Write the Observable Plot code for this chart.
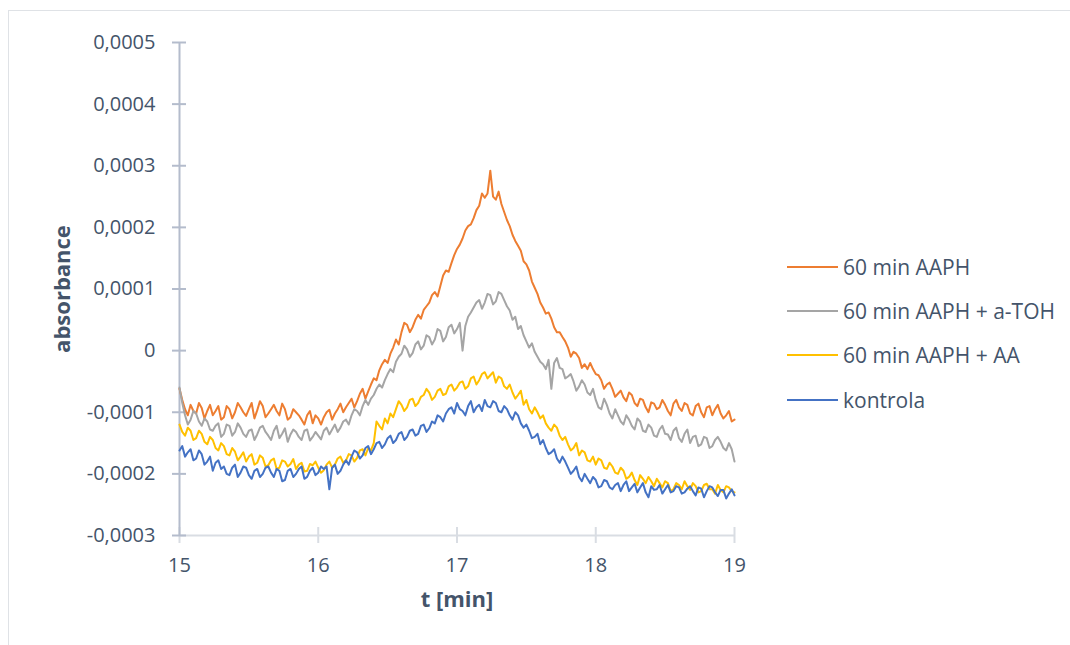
<!DOCTYPE html>
<html>
<head>
<meta charset="utf-8">
<script src="https://cdn.jsdelivr.net/npm/d3@7"></script>
<script src="https://cdn.jsdelivr.net/npm/@observablehq/plot@0.6"></script>
<style>
  html, body { margin: 0; padding: 0; background: #fff; }
  #wrap { position: relative; width: 1070px; height: 645px; overflow: hidden; font-family: "Open Sans", sans-serif; }
  #frame { position: absolute; left: 8px; top: 10px; width: 1070px; height: 650px; border-left: 1px solid #dfe2e6; border-top: 1px solid #dfe2e6; }
  #chart { position: absolute; left: 0; top: 0; }
  #legend { position: absolute; left: 787px; top: 0; }
  .item { position: absolute; left: 0; display: flex; align-items: center; white-space: nowrap; transform: translateY(-50%); }
  .sw { width: 51px; height: 2px; margin-right: 5px; }
  .lab { font-size: 21px; color: #44546A; }
</style>
</head>
<body>
<div id="wrap">
  <div id="frame"></div>
  <div id="chart"></div>
  <div id="legend"></div>
</div>
<script>
// time axis sampling (minutes)
const tStart = 15, tStep = 0.02;
// absorbance values in units of 1e-4, one value per sample
const seriesNames = ["60 min AAPH", "60 min AAPH + a-TOH", "60 min AAPH + AA", "kontrola"];
const seriesColors = ["#ED7D31", "#A5A5A5", "#FFC000", "#4472C4"];
const aaph = [
-0.62,-0.80, -0.95,-1.05, -0.88,-0.98, -1.02,-0.85, -0.93,-1.10, -0.98,-0.88, -1.05,-0.98, -0.90,-1.12, -1.08,-0.90, -0.95,-1.10,
-1.00,-0.85, -0.92,-1.00, -1.06,-0.95, -0.85,-1.10, -0.97,-0.82, -0.90,-1.08, -1.02,-0.95, -0.88,-0.98, -1.05,-0.86, -0.95,-1.12,
-1.08,-0.95, -1.00,-1.05, -1.12,-1.20, -1.05,-0.98, -1.18,-1.05, -1.10,-1.20, -1.08,-1.00, -0.96,-1.12, -1.02,-0.95, -0.86,-1.00,
-0.92,-0.85, -0.78,-0.92, -0.82,-0.70, -0.62,-0.78, -0.66,-0.55, -0.45,-0.48, -0.32,-0.22, -0.15,-0.20, -0.05,0.05, 0.18,0.10,
0.30,0.45, 0.42,0.30, 0.38,0.50, 0.58,0.52, 0.66,0.72, 0.78,0.90, 0.95,0.88, 1.05,1.22, 1.30,1.28, 1.42,1.55,
1.65,1.72, 1.82,1.95, 2.02,2.05, 2.15,2.28, 2.35,2.55, 2.48,2.55, 2.92,2.50, 2.45,2.58, 2.38,2.25, 2.12,2.02,
1.88,1.78, 1.70,1.62, 1.45,1.40, 1.30,1.12, 1.02,0.92, 0.78,0.70, 0.60,0.62, 0.52,0.38, 0.30,0.30, 0.22,0.15,
0.05,-0.10, -0.02,-0.05, -0.12,-0.28, -0.22,-0.30, -0.20,-0.30, -0.38,-0.40, -0.48,-0.62, -0.55,-0.52, -0.62,-0.75, -0.70,-0.65,
-0.76,-0.82, -0.68,-0.72, -0.85,-0.90, -0.78,-0.80, -0.92,-1.00, -0.84,-0.86, -0.95,-0.92, -0.80,-0.88, -0.98,-1.05, -0.86,-0.80,
-0.92,-0.98, -0.85,-0.88, -1.02,-1.05, -0.90,-0.86, -1.00,-1.08, -0.92,-0.90, -1.05,-0.95, -0.88,-1.02, -1.10,-1.05, -0.98,-1.15, -1.12];
const aaphToh = [
-0.60,-0.85, -1.05,-1.20, -1.12,-0.98, -1.02,-1.15, -1.22,-1.10, -1.15,-1.28, -1.30,-1.22, -1.18,-1.40, -1.35,-1.20, -1.22,-1.38,
-1.32,-1.18, -1.25,-1.35, -1.40,-1.30, -1.28,-1.45, -1.36,-1.25, -1.22,-1.32, -1.38,-1.45, -1.30,-1.22, -1.42,-1.35, -1.26,-1.48,
-1.36,-1.28, -1.32,-1.40, -1.45,-1.30, -1.28,-1.46, -1.40,-1.32, -1.38,-1.44, -1.30,-1.25, -1.36,-1.28, -1.20,-1.32, -1.25,-1.15,
-1.12,-1.20, -1.05,-0.95, -0.98,-1.05, -0.90,-0.80, -0.88,-0.78, -0.72,-0.62, -0.55,-0.60, -0.48,-0.38, -0.30,-0.35, -0.18,-0.10,
-0.05,0.08, 0.02,-0.10, -0.04,0.10, 0.15,0.02, 0.08,0.25, 0.22,0.10, 0.18,0.35, 0.32,0.15, 0.22,0.38, 0.42,0.28,
0.35,0.45, 0.00,0.40, 0.55,0.62, 0.70,0.78, 0.82,0.68, 0.78,0.92, 0.90,0.75, 0.80,0.95, 0.92,0.82, 0.72,0.65, 0.50,0.55,
0.35,0.40, 0.25,0.15, 0.05,0.12, -0.02,-0.10, -0.18,-0.22, -0.30,-0.15, -0.62,-0.20, -0.12,-0.28, -0.30,-0.45, -0.42,-0.38,
-0.50,-0.65, -0.58,-0.48, -0.55,-0.68, -0.72,-0.62, -0.80,-0.92, -0.95,-0.78, -0.88,-1.02, -1.10,-0.95, -1.05,-1.15, -1.20,-1.05,
-1.12,-1.22, -1.28,-1.10, -1.15,-1.30, -1.32,-1.20, -1.25,-1.38, -1.40,-1.28, -1.22,-1.35, -1.36,-1.45, -1.30,-1.25, -1.42,-1.48,
-1.35,-1.28, -1.50,-1.40, -1.38,-1.55, -1.52,-1.40, -1.42,-1.58, -1.55,-1.45, -1.40,-1.48, -1.58,-1.62, -1.50,-1.60, -1.80];
const aaphAA = [
-1.20,-1.32, -1.38,-1.25, -1.30,-1.45, -1.42,-1.30, -1.35,-1.48, -1.52,-1.40, -1.45,-1.58, -1.62,-1.50, -1.55,-1.68, -1.70,-1.58,
-1.64,-1.78, -1.72,-1.65, -1.80,-1.72, -1.68,-1.85, -1.82,-1.70, -1.74,-1.88, -1.86,-1.78, -1.75,-1.92, -1.90,-1.78, -1.80,-1.88,
-1.84,-1.76, -1.92,-1.85, -1.82,-1.96, -1.95,-1.84, -1.86,-1.80, -1.90,-1.98, -1.94,-1.85, -1.80,-1.90, -1.85,-1.75, -1.72,-1.82,
-1.78,-1.68, -1.70,-1.80, -1.74,-1.62, -1.60,-1.70, -1.58,-1.62, -1.50,-1.15, -1.22,-1.28, -1.10,-1.18, -1.02,-1.08, -0.95,-0.82,
-0.88,-0.98, -0.92,-0.80, -0.78,-0.90, -0.85,-0.75, -0.72,-0.62, -0.68,-0.80, -0.75,-0.65, -0.62,-0.72, -0.70,-0.58, -0.55,-0.65,
-0.60,-0.52, -0.50,-0.62, -0.58,-0.45, -0.42,-0.55, -0.48,-0.38, -0.35,-0.45, -0.40,-0.35, -0.52,-0.42, -0.45,-0.58, -0.62,-0.55,
-0.68,-0.78, -0.72,-0.65, -0.88,-0.80, -0.95,-1.02, -0.92,-1.00, -1.10,-1.05, -1.18,-1.25, -1.30,-1.20, -1.25,-1.38, -1.45,-1.40,
-1.52,-1.62, -1.58,-1.50, -1.70,-1.62, -1.65,-1.78, -1.80,-1.72, -1.85,-1.75, -1.78,-1.90, -1.92,-1.82, -1.88,-1.98, -2.00,-1.90,
-1.95,-2.08, -2.05,-1.98, -2.10,-2.18, -2.02,-2.08, -2.15,-2.05, -2.12,-2.20, -2.08,-2.15, -2.22,-2.12, -2.15,-2.28, -2.25,-2.15,
-2.18,-2.25, -2.12,-2.20, -2.26,-2.15, -2.20,-2.30, -2.28,-2.18, -2.16,-2.25, -2.25,-2.32, -2.18,-2.26, -2.30,-2.20, -2.22,-2.28, -2.30];
const kontrola = [
-1.62,-1.55, -1.72,-1.65, -1.60,-1.78, -1.75,-1.62, -1.68,-1.85, -1.80,-1.72, -1.95,-1.82, -1.78,-1.92, -1.88,-2.00, -2.02,-1.90,
-1.85,-2.05, -1.98,-1.88, -1.90,-2.02, -2.08,-1.95, -1.92,-2.05, -2.00,-1.90, -1.88,-1.98, -2.05,-1.92, -1.95,-2.12, -2.10,-1.95,
-1.92,-2.05, -2.00,-1.92, -1.88,-2.08, -2.05,-1.95, -1.90,-2.02, -1.98,-1.88, -1.92,-1.88, -2.25,-1.90, -1.85,-2.00, -1.95,-1.85,
-1.78,-1.85, -1.72,-1.62, -1.65,-1.75, -1.70,-1.58, -1.55,-1.68, -1.60,-1.50, -1.48,-1.58, -1.52,-1.42, -1.38,-1.50, -1.45,-1.35,
-1.32,-1.45, -1.40,-1.30, -1.28,-1.38, -1.35,-1.22, -1.20,-1.32, -1.26,-1.15, -1.18,-1.05, -1.08,-1.15, -1.02,-0.95, -0.92,-1.02,
-0.85,-0.95, -0.98,-1.05, -0.90,-0.82, -1.00,-0.92, -0.88,-0.98, -0.80,-0.90, -0.92,-0.82, -0.85,-0.98, -1.00,-0.90, -0.95,-1.05,
-1.12,-1.00, -1.05,-1.18, -1.25,-1.20, -1.30,-1.42, -1.40,-1.35, -1.52,-1.45, -1.58,-1.68, -1.65,-1.60, -1.75,-1.82, -1.72,-1.80,
-1.90,-2.00, -1.95,-1.88, -2.05,-2.12, -2.00,-2.08, -2.15,-2.05, -2.10,-2.22, -2.20,-2.10, -2.12,-2.22, -2.25,-2.18, -2.15,-2.28,
-2.18,-2.12, -2.28,-2.22, -2.16,-2.30, -2.22,-2.15, -2.30,-2.38, -2.20,-2.26, -2.25,-2.18, -2.32,-2.25, -2.18,-2.30, -2.28,-2.20,
-2.22,-2.32, -2.30,-2.24, -2.20,-2.28, -2.35,-2.22, -2.24,-2.38, -2.28,-2.20, -2.22,-2.30, -2.36,-2.26, -2.26,-2.40, -2.32,-2.25, -2.35];
const xTicks = [15, 16, 17, 18, 19];
const yTicks = [-3, -2, -1, 0, 1, 2, 3, 4, 5];
const yTickLabels = ["-0,0003", "-0,0002", "-0,0001", "0", "0,0001", "0,0002", "0,0003", "0,0004", "0,0005"];
const xLabel = "t [min]";
const yLabel = "absorbance";

const allSeries = [aaph, aaphToh, aaphAA, kontrola];
const rows = [];
allSeries.forEach((vals, s) => vals.forEach((v, i) => rows.push({series: seriesNames[s], t: tStart + i * tStep, v})));

const textColor = "#44546A";
const chart = Plot.plot({
  width: 1070, height: 645,
  marginLeft: 179, marginRight: 336, marginTop: 42, marginBottom: 110,
  x: {domain: [15, 19]},
  y: {domain: [-3, 5]},
  color: {domain: seriesNames, range: seriesColors},
  style: {fontFamily: "Open Sans", fontSize: "20px", color: textColor, background: "transparent", overflow: "visible"},
  marks: [
    Plot.ruleY([-3], {stroke: "#d9dde3", strokeWidth: 2}),
    Plot.axisX({ticks: xTicks, tickSize: 16, dy: -8, tickFormat: () => "", stroke: "#d9dde3", strokeWidth: 2, label: null}),
    Plot.axisX({ticks: xTicks, tickSize: 0, tickPadding: 22, tickFormat: d => String(d), label: null, fill: textColor}),
    Plot.ruleX([15], {stroke: "#b4bccc", strokeWidth: 2}),
    Plot.axisY({ticks: yTicks, tickSize: 14, dx: 7, tickFormat: () => "", stroke: "#b4bccc", strokeWidth: 2, label: null}),
    Plot.axisY({ticks: yTicks, tickSize: 0, tickPadding: 24, tickFormat: d => yTickLabels[yTicks.indexOf(d)], label: null, fill: textColor}),
    Plot.text([yLabel], {text: d => d, frameAnchor: "left", textAnchor: "middle", dx: -117, rotate: -90, fontWeight: "bold", fontSize: 22, fill: textColor}),
    Plot.text([xLabel], {text: d => d, frameAnchor: "bottom", dy: 71, fontWeight: "bold", fontSize: 22, fill: textColor}),
    Plot.line(rows, {x: "t", y: "v", z: "series", stroke: "series", strokeWidth: 2, strokeLinejoin: "round"})
  ]
});
document.getElementById("chart").appendChild(chart);

const legendY = [267, 311, 355, 400];
const legend = document.getElementById("legend");
seriesNames.forEach((name, i) => {
  const item = document.createElement("div");
  item.className = "item";
  item.style.top = legendY[i] + "px";
  const sw = document.createElement("span");
  sw.className = "sw";
  sw.style.background = seriesColors[i];
  const lab = document.createElement("span");
  lab.className = "lab";
  lab.textContent = name;
  item.appendChild(sw);
  item.appendChild(lab);
  legend.appendChild(item);
});
</script>
</body>
</html>
